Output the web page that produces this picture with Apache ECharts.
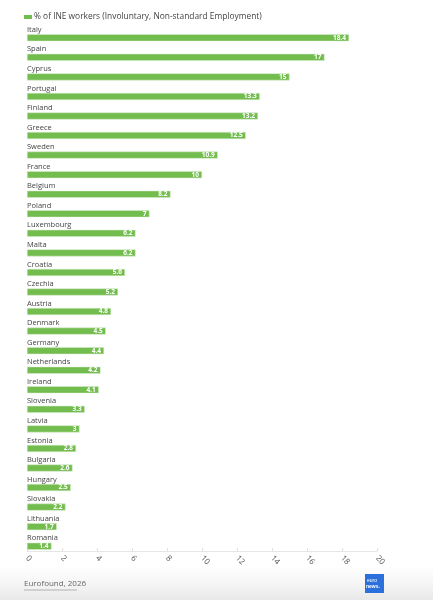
<!DOCTYPE html>
<html><head><meta charset="utf-8">
<script src="https://cdn.jsdelivr.net/npm/echarts@6/dist/echarts.min.js"></script>
<style>html,body{margin:0;padding:0;background:#fff;}#c{width:433px;height:600px;}</style>
</head><body><div id="c"></div>
<script>
const countries = ["Italy","Spain","Cyprus","Portugal","Finland","Greece","Sweden","France","Belgium","Poland","Luxembourg","Malta","Croatia","Czechia","Austria","Denmark","Germany","Netherlands","Ireland","Slovenia","Latvia","Estonia","Bulgaria","Hungary","Slovakia","Lithuania","Romania"];
const values = [18.4,17,15,13.3,13.2,12.5,10.9,10,8.2,7,6.2,6.2,5.6,5.2,4.8,4.5,4.4,4.2,4.1,3.3,3,2.8,2.6,2.5,2.2,1.7,1.4];
const xTicks = [0,2,4,6,8,10,12,14,16,18,20];
const seriesName = "% of INE workers (Involuntary, Non-standard Employment)";
const chart = echarts.init(document.getElementById('c'), null, {renderer:'canvas'});
chart.setOption({
  animation:false,
  backgroundColor:'#fff',
  textStyle:{fontFamily:'"Open Sans", sans-serif'},
  legend:{show:true,left:19,top:8,itemWidth:8,itemHeight:4,itemGap:4,icon:'rect',
    itemStyle:{borderWidth:0,color:'#72bd4e'},
    textStyle:{fontSize:8.4,color:'#444',padding:[0,0,0,-3]},data:[seriesName]},
  grid:{left:27,right:56,top:28,bottom:44,containLabel:false},
  xAxis:{type:'value',min:0,max:20,interval:2,offset:-5,
    axisLine:{show:true,lineStyle:{color:'#e6e6e6'}},
    axisTick:{show:true,length:3,inside:true,lineStyle:{color:'#e0e0e0'}},
    splitLine:{show:false},
    axisLabel:{rotate:-45,fontSize:8,color:'#555',margin:6,
      formatter:v=>xTicks.includes(v)?String(v):''}},
  yAxis:{type:'category',inverse:true,data:countries,
    axisLine:{show:false},axisTick:{show:false},
    axisLabel:{inside:true,margin:0,verticalAlign:'bottom',align:'left',fontSize:7.5,color:'#444',padding:[0,0,4,0]}},
  series:[{name:seriesName,type:'bar',data:values,barWidth:7,
    itemStyle:{color:'#72bd4e',borderColor:'#d8ecd0',borderWidth:0.5},
    label:{show:true,position:'insideRight',distance:3,color:'#fff',fontSize:6.5,fontWeight:'bold'}}],
  graphic:[
    {type:'rect',left:0,top:565,shape:{width:433,height:35},style:{fill:new echarts.graphic.LinearGradient(0,0,0,1,[{offset:0,color:'rgba(240,240,240,0)'},{offset:1,color:'rgba(232,232,232,1)'}])},z:-1},
    {type:'text',left:24,top:580,style:{text:'Eurofound, 2026',fill:'#666',fontSize:8,fontFamily:'"Open Sans", sans-serif'}},
    {type:'line',shape:{x1:24,y1:590,x2:77,y2:590},style:{stroke:'#888',lineWidth:0.6}},
    {type:'rect',left:365,top:574,shape:{width:19,height:19},style:{fill:'#2a6fdb'}},
    {type:'text',left:367,top:578,style:{text:'euro',fill:'#fff',fontSize:5,fontFamily:'sans-serif'}},
    {type:'text',left:366,top:584,style:{text:'news.',fill:'#fff',fontSize:5,fontWeight:'bold',fontFamily:'sans-serif'}}
  ]
});
</script></body></html>
